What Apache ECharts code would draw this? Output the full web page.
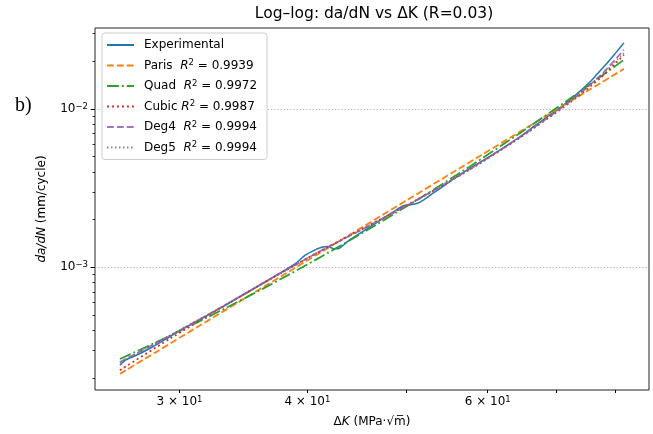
<!DOCTYPE html>
<html><head><meta charset="utf-8">
<script src="https://cdn.jsdelivr.net/npm/echarts@6/dist/echarts.min.js"></script>
<style>html,body{margin:0;padding:0;background:#fff}#c{width:653px;height:434px}</style>
</head><body><div id="c"></div>
<script>
// ---- data ----
const expK = [26.24, 26.54, 26.84, 27.33, 28.08, 29.04, 30.03, 31.43, 32.86, 34.37, 35.95, 37.61, 38.90, 39.78, 40.69, 41.33, 41.89, 42.46, 42.85, 43.33, 44.02, 45.53, 47.09, 48.71, 49.59, 50.38, 51.17, 51.87, 52.93, 54.50, 56.36, 58.29, 60.29, 62.37, 64.50, 66.72, 68.70, 70.61, 72.51, 73.83, 75.51, 76.71, 78.10, 79.52, 80.59, 81.51];
const expRate = [2.407e-4, 2.581e-4, 2.678e-4, 2.812e-4, 3.082e-4, 3.491e-4, 3.983e-4, 4.682e-4, 5.503e-4, 6.516e-4, 7.714e-4, 9.199e-4, 1.0498e-3, 1.1885e-3, 1.2885e-3, 1.3411e-3, 1.3539e-3, 1.3090e-3, 1.3079e-3, 1.3766e-3, 1.4962e-3, 1.7197e-3, 1.9767e-3, 2.2723e-3, 2.4380e-3, 2.4831e-3, 2.529e-3, 2.6469e-3, 2.9068e-3, 3.3066e-3, 3.8561e-3, 4.4010e-3, 5.0214e-3, 5.7707e-3, 6.6822e-3, 7.8487e-3, 8.9929e-3, 1.0214e-2, 1.1684e-2, 1.2959e-2, 1.4821e-2, 1.6580e-2, 1.8845e-2, 2.1577e-2, 2.3926e-2, 2.6183e-2];
const parisK = [26.24, 81.51];
const parisRate = [2.123e-4, 1.794e-2];
const fitK = [26.24, 29.37, 32.86, 36.77, 41.14, 46.25, 51.52, 57.64, 64.50, 72.18, 77.22, 81.51];
const quadRate = [2.636e-4, 3.698e-4, 5.296e-4, 7.741e-4, 1.1552e-3, 1.7899e-3, 2.7355e-3, 4.341e-3, 7.0325e-3, 1.1631e-2, 1.5882e-2, 2.0488e-2];
const cubicRate = [2.2395e-4, 3.544e-4, 5.503e-4, 8.424e-4, 1.2619e-3, 1.8826e-3, 2.7314e-3, 4.1505e-3, 6.5865e-3, 1.0993e-2, 1.5611e-2, 2.2021e-2];
const deg4Rate = [2.5244e-4, 3.7005e-4, 5.543e-4, 8.424e-4, 1.2619e-3, 1.8691e-3, 2.7314e-3, 4.1805e-3, 6.6342e-3, 1.1153e-2, 1.6184e-2, 2.3668e-2];
const deg5Rate = [2.4882e-4, 3.7273e-4, 5.543e-4, 8.3633e-4, 1.2619e-3, 1.8826e-3, 2.7314e-3, 4.1505e-3, 6.6342e-3, 1.1234e-2, 1.6068e-2, 2.2602e-2];
const names = ['Experimental', 'Paris', 'Quad', 'Cubic', 'Deg4', 'Deg5'];
const r2Text = {Paris: 'Paris  ', Quad: 'Quad  ', Cubic: 'Cubic ', Deg4: 'Deg4  ', Deg5: 'Deg5  '};
const r2Values = {Paris: '0.9939', Quad: '0.9972', Cubic: '0.9987', Deg4: '0.9994', Deg5: '0.9994'};
const xTickValues = [30, 40, 50, 60, 70, 80];
const xLabelValues = [30, 40, 60];
const yMajorValues = [1e-3, 1e-2];
const yMinorValues = [2e-4, 3e-4, 4e-4, 5e-4, 6e-4, 7e-4, 8e-4, 9e-4, 2e-3, 3e-3, 4e-3, 5e-3, 6e-3, 7e-3, 8e-3, 9e-3, 2e-2, 3e-2];

// ---- chart ----
const FONT = 'DejaVu Sans';
const sup = {fontSize: 8.5, fontFamily: FONT, color: '#000', lineHeight: 8, verticalAlign: 'top'};
const ital = {fontSize: 12, fontFamily: FONT, color: '#000', fontStyle: 'italic', lineHeight: 14};
const pairs = (ks, vs) => ks.map((k, i) => [k, vs[i]]);
const XMIN = 24.81, XMAX = 86.24, YMIN = 1.679e-4, YMAX = 0.0325;

const chart = echarts.init(document.getElementById('c'), null, {renderer: 'canvas'});
const lineSeries = (name, data, color, type, width, opacity) => ({
  name, type: 'line', data, xAxisIndex: 0, yAxisIndex: 0, symbol: 'none', showSymbol: false, smooth: 0.25,
  lineStyle: {color, type, width, opacity: opacity || 1, cap: 'butt'},
  itemStyle: {color}, emphasis: {disabled: true}, animation: false
});

chart.setOption({
  animation: false,
  backgroundColor: '#fff',
  title: {
    text: 'Log–log: da/dN vs ΔK (R=0.03)', left: 374, top: 5, textAlign: 'center', padding: 0,
    textStyle: {fontFamily: FONT, fontSize: 15.5, fontWeight: 'normal', color: '#000', lineHeight: 18}
  },
  grid: {left: 95, top: 28, width: 554, height: 365, show: true, borderColor: '#222', borderWidth: 1, backgroundColor: 'transparent', containLabel: false},
  legend: {
    orient: 'vertical', left: 102, top: 33, padding: [5, 10, 5, 4], itemGap: 6.5,
    itemWidth: 27, itemHeight: 14, backgroundColor: 'rgba(255,255,255,0.8)',
    borderColor: '#cccccc', borderWidth: 1, borderRadius: 3, selectedMode: false,
    itemStyle: {opacity: 0, borderWidth: 0, color: 'transparent'},
    data: names,
    formatter: n => n === 'Experimental' ? n : r2Text[n] + '{i|R}{sup|2} = ' + r2Values[n],
    textStyle: {fontFamily: FONT, fontSize: 12, color: '#000', lineHeight: 14, padding: [0, 0, 0, 5], rich: {i: ital, sup: sup}}
  },
  xAxis: [{
    type: 'log', logBase: 10, min: XMIN, max: XMAX, position: 'bottom',
    axisLine: {show: false},
    axisTick: {show: true, customValues: xTickValues, length: 3, lineStyle: {color: '#000', width: 1}},
    axisLabel: {
      customValues: xLabelValues, margin: 5, fontFamily: FONT, fontSize: 12, color: '#000', lineHeight: 14,
      formatter: v => (v / 10) + ' × 10{sup|1}', rich: {sup: sup}
    },
    splitLine: {show: false}, minorTick: {show: false},
    name: 'Δ{i|K} (MPa·√m̅)', nameLocation: 'middle', nameGap: 25,
    nameTextStyle: {fontFamily: FONT, fontSize: 12, color: '#000', lineHeight: 14, rich: {i: ital}}
  }],
  yAxis: [{
    type: 'log', logBase: 10, min: YMIN, max: YMAX, position: 'left',
    axisLine: {show: false},
    axisTick: {show: true, customValues: yMajorValues, length: 4.3, lineStyle: {color: '#000', width: 1}},
    axisLabel: {
      customValues: yMajorValues, margin: 7, fontFamily: FONT, fontSize: 12, color: '#000', lineHeight: 14,
      formatter: v => '10{sup|−' + Math.round(-Math.log10(v)) + '}', rich: {sup: sup}
    },
    splitLine: {show: true, lineStyle: {color: '#b0b0b0', width: 1, type: [1.2, 2]}},
    name: '{i|da/dN} (mm/cycle)', nameLocation: 'middle', nameGap: 44, nameRotate: 90,
    nameTextStyle: {fontFamily: FONT, fontSize: 12, color: '#000', lineHeight: 14, rich: {i: ital}}
  }, {
    type: 'log', logBase: 10, min: YMIN, max: YMAX, position: 'left',
    axisLine: {show: false},
    axisTick: {show: true, customValues: yMinorValues, length: 2.5, lineStyle: {color: '#000', width: 0.8}},
    axisLabel: {show: false}, splitLine: {show: false}
  }],
  graphic: [{
    type: 'text', left: 15, top: 96,
    style: {text: 'b)', font: '20px "Liberation Serif", serif', fill: '#000'}
  }],
  series: [
    lineSeries('Experimental', pairs(expK, expRate), '#1f77b4', 'solid', 1.5),
    lineSeries('Paris', pairs(parisK, parisRate), '#ff7f0e', [6.9, 3], 1.8),
    lineSeries('Quad', pairs(fitK, quadRate), '#2ca02c', [11.9, 3, 1.9, 3], 1.8),
    lineSeries('Cubic', pairs(fitK, cubicRate), '#d62728', [1.9, 3.1], 1.8),
    lineSeries('Deg4', pairs(fitK, deg4Rate), '#9467bd', [6.9, 3], 1.8, 0.9),
    lineSeries('Deg5', pairs(fitK, deg5Rate), '#8c564b', [1.5, 2.5], 1.4, 0.8)
  ]
});
</script>
</body></html>
